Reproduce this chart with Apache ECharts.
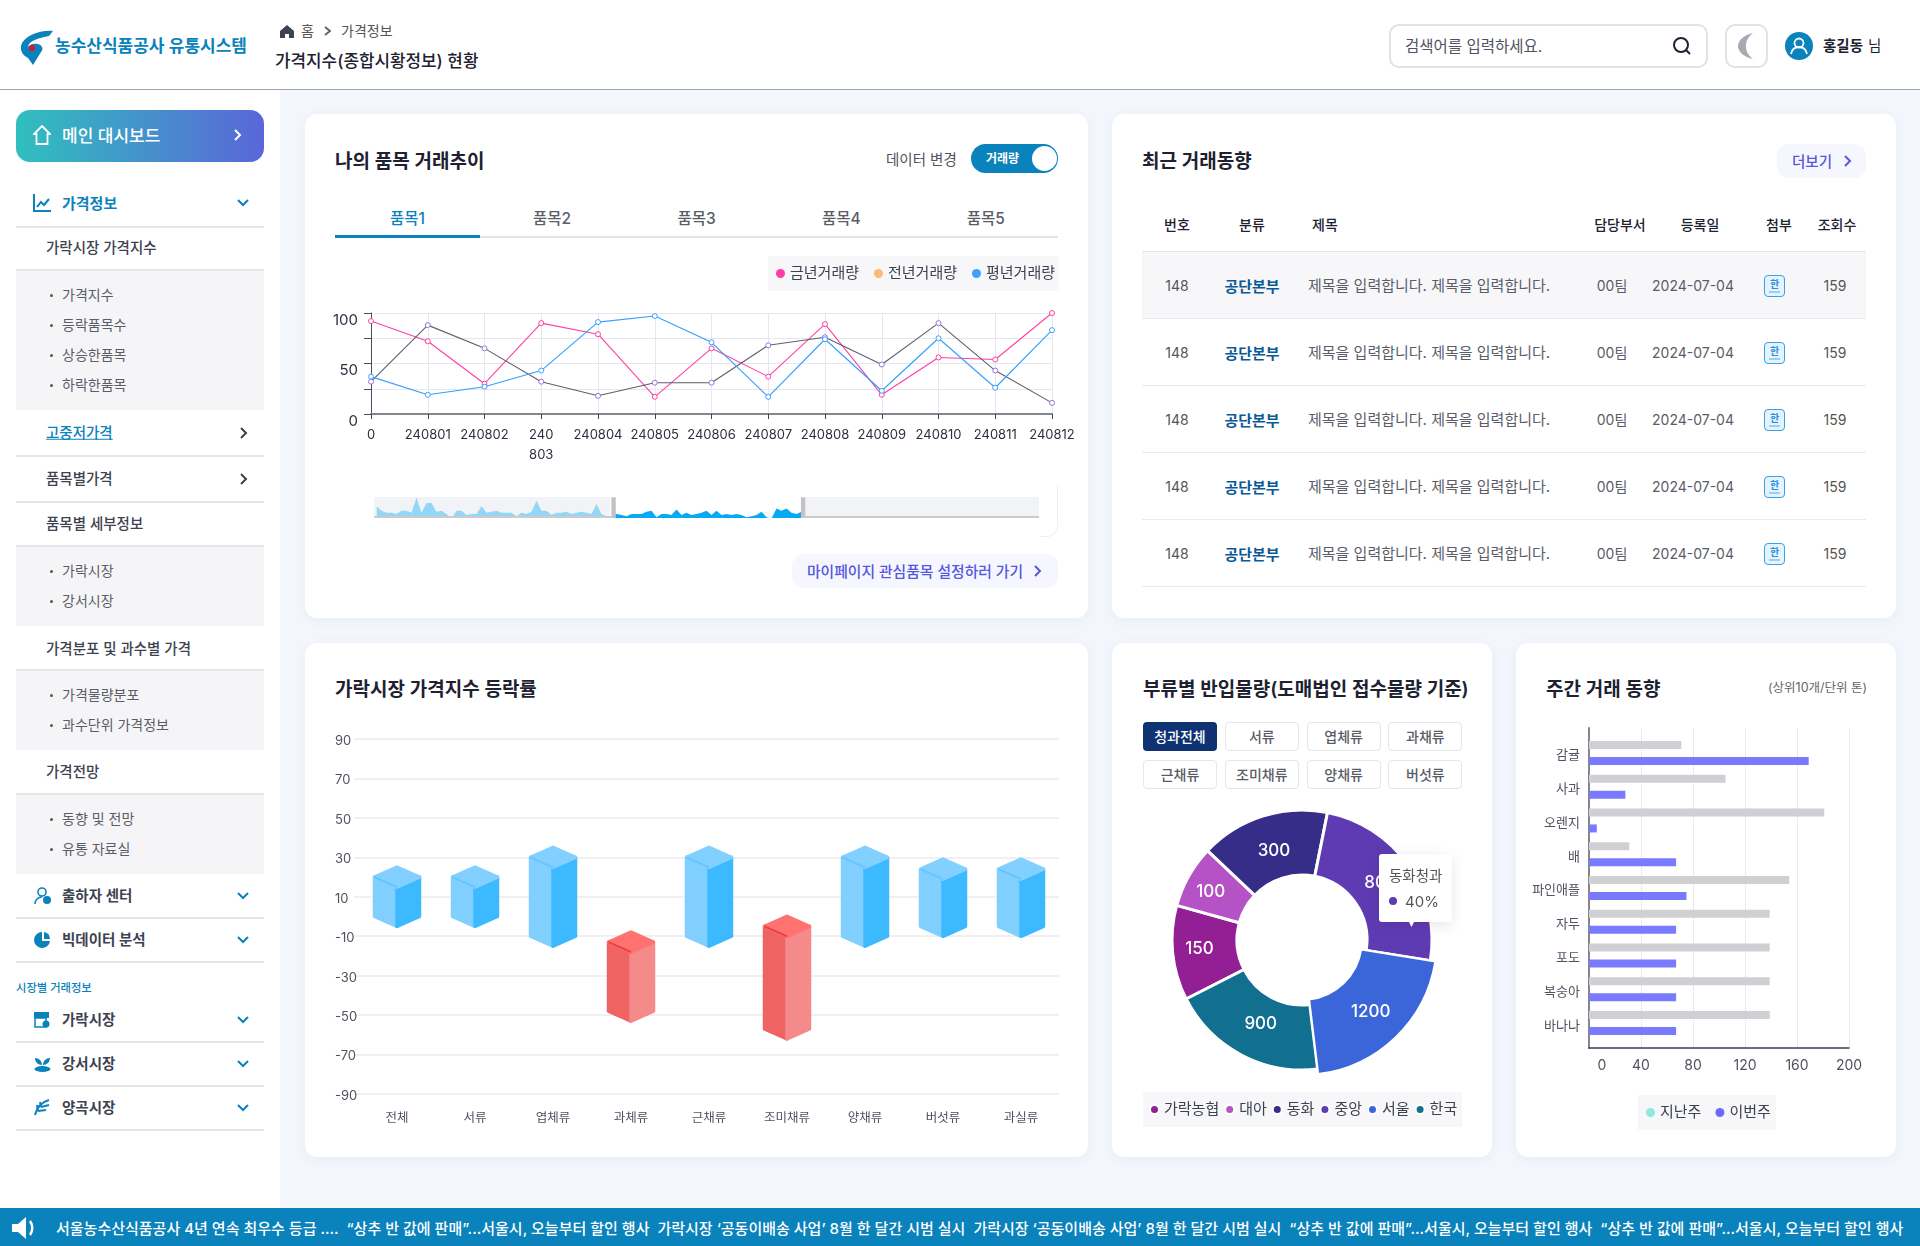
<!DOCTYPE html>
<html lang="ko">
<head>
<meta charset="utf-8">
<title>가격지수(종합시황정보) 현황</title>
<script src="https://cdn.jsdelivr.net/npm/echarts@6/dist/echarts.min.js"></script>
<style>
  html, body { margin: 0; padding: 0; }
  #page { position: relative; width: 1920px; height: 1246px; overflow: hidden; background: #f3f6fc;
    font-family: Inter, 'Noto Sans CJK KR', sans-serif; }
  #page > * { position: absolute; box-sizing: border-box; }
  #page svg { display: block; }
  .t { white-space: pre; line-height: 1; }
</style>
</head>
<body>
<div id="page"></div>
<script>
// 나의 품목 거래추이
const tradeDates = ['0', '240801', '240802', '240\n803', '240804', '240805', '240806', '240807', '240808', '240809', '240810', '240811', '240812'];
const thisYear = [92, 72, 30, 90, 79, 17, 65, 37, 89, 19, 56, 54, 100];
const lastYear = [32, 88, 65, 32, 18, 31, 31, 68, 76, 49, 90, 43, 11];
const avgYear = [37, 19, 27, 43, 91, 97, 71, 17, 74, 23, 75, 26, 83];
// 슬라이더 미니 그래프
const overviewValues = [60, 40, 30, 30, 25, 40, 40, 30, 100, 30, 75, 75, 35, 40, 25, 5, 40, 40, 20, 25, 25, 60, 30, 35, 40, 30, 30, 30, 15, 30, 25, 35, 85, 40, 40, 20, 30, 30, 35, 25, 30, 35, 30, 25, 70, 25, 15, 15,
  25, 20, 15, 25, 25, 25, 35, 40, 10, 25, 25, 20, 45, 20, 30, 20, 25, 30, 40, 20, 40, 20, 25, 20, 25, 20, 10, 15, 20, 35, 10, 5, 50, 40, 50, 30, 25, 35,
  null, null, null, null, null, null, null, null, null, null, null, null, null, null, null, null, null, null, null, null, null, null, null, null,
  null, null, null, null, null, null, null, null, null, null, null, null, null, null, null, null, null, null, null, null, null, null, null, null];

// 가락시장 가격지수 등락률
const indexCategories = ['전체', '서류', '엽체류', '과체류', '근채류', '조미채류', '양채류', '버섯류', '과실류'];
const indexLow = [0, 0, -10, -48, -10, -57, -10, -5, -5];
const indexHigh = [20, 20, 30, -13, 30, -5, 30, 24, 24];

// 부류별 반입물량
const pieNames = ['가락농협', '대아', '동화', '중앙', '서울', '한국'];
const pieShares = [42.5, 28, 58, 88, 74, 70];
const pieLabels = ['150', '100', '300', '800', '1200', '900'];
const pieColors = ['#921f93', '#b452c6', '#362d88', '#5f3bb3', '#3a66d9', '#11708f'];

// 주간 거래 동향
const weekItems = ['감귤', '사과', '오렌지', '배', '파인애플', '자두', '포도', '복숭아', '바나나'];
const lastWeek = [71, 105, 181, 31, 154, 139, 139, 139, 139];
const thisWeek = [169, 28, 6, 67, 75, 67, 67, 67, 67];

const FONT = "Inter, 'Noto Sans CJK KR', sans-serif";
const BLUE = '#0a82bc';
const page = document.getElementById('page');

function box(x, y, w, h, css) {
  const el = document.createElement('div');
  el.style.cssText = `left:${x}px;top:${y}px;width:${w}px;height:${h}px;${css || ''}`;
  page.appendChild(el);
  return el;
}
// y is the vertical centre of the text
function text(x, y, str, size, color, weight, align) {
  const el = document.createElement('div');
  el.className = 't';
  const shift = align === 'center' ? '-50%' : '0';
  el.style.cssText = `left:${x}px;top:${y}px;transform:translate(${shift},-50%);font-size:${size}px;color:${color};font-weight:${weight || 400};`;
  el.textContent = str;
  page.appendChild(el);
  return el;
}
function svg(x, y, w, h, inner) {
  const el = box(x, y, w, h);
  el.innerHTML = `<svg width="${w}" height="${h}" viewBox="0 0 ${w} ${h}">${inner}</svg>`;
}
function chevronRight(x, y, color, size) {
  const s = size || 5;
  svg(x - s, y - s - 1, s * 2, s * 2 + 2, `<polyline points="${s - 2},1 ${s + 3},${s + 1} ${s - 2},${s * 2 + 1}" fill="none" stroke="${color}" stroke-width="2"/>`);
}
function chevronDown(x, y) {
  svg(x - 7, y - 5, 14, 10, `<polyline points="2,2 7,7 12,2" fill="none" stroke="${BLUE}" stroke-width="2"/>`);
}

// 상단 헤더 + 사이드바 바탕
box(0, 0, 1920, 90, 'background:#fff;border-bottom:1px solid #a3a3ad;');
box(0, 90, 280, 1118, 'background:#fff;');
svg(20, 30, 34, 36, `<path d="M33 1C22 0 8 4 2 13c-3 6 0 12 6 15l5 7 8-13c3-3 1-7-3-8-4-1-8 0-10 3 1-7 12-9 21-11z" fill="${BLUE}"/><circle cx="12" cy="18" r="3" fill="#e3122d"/>`);
text(55, 46, '농수산식품공사 유통시스템', 17, BLUE, 600);
svg(280, 25, 14, 13, '<path d="M7 0L14 6V13H9V9H5V13H0V6z" fill="#3d4250"/>');
text(301, 31, '홈', 14, '#555');
chevronRight(327, 31, '#666', 4);
text(341, 31, '가격정보', 14, '#555');
text(275, 61, '가격지수(종합시황정보) 현황', 16.9, '#1d2130', 500);
box(1389, 24, 319, 44, 'background:#fff;border:2px solid #e1e1e6;border-radius:10px;');
text(1405, 47, '검색어를 입력하세요.', 15.5, '#4f5260');
svg(1672, 36, 20, 20, '<circle cx="9" cy="9" r="7" fill="none" stroke="#1d2130" stroke-width="2"/><line x1="14" y1="14" x2="18" y2="18" stroke="#1d2130" stroke-width="2"/>');
box(1725, 24, 43, 44, 'background:#fff;border:2px solid #e1e1e6;border-radius:10px;');
svg(1738, 33, 18, 26, '<path d="M15 0C5 2 0 8 0 13s5 11 15 13C9 21 8 17 8 13s1-8 7-13z" fill="#a9a9b4"/>');
svg(1785, 32, 28, 28, `<circle cx="14" cy="14" r="14" fill="${BLUE}"/><circle cx="14" cy="11" r="4.5" fill="none" stroke="#fff" stroke-width="1.8"/><path d="M6 22c1-5 4-7 8-7s7 2 8 7" fill="none" stroke="#fff" stroke-width="1.8"/>`);
text(1823, 46, '홍길동', 14.5, '#1d2130', 700);
text(1868, 46, '님', 14.5, '#1d2130');

// 사이드바
box(16, 110, 248, 52, 'background:linear-gradient(90deg,#2fc0bd,#5a66d9);border-radius:14px;');
svg(33, 125, 18, 20, '<path d="M9 1L17 9H14.5V19H3.5V9H1z" fill="none" stroke="#fff" stroke-width="1.8"/>');
text(62, 136, '메인 대시보드', 17, '#fff', 500);
chevronRight(237, 135, '#fff');
svg(33, 193, 18, 20, `<path d="M1 1V18H18" fill="none" stroke="${BLUE}" stroke-width="2"/><polyline points="4,14 8,9 11,12 16,6" fill="none" stroke="${BLUE}" stroke-width="2"/>`);
text(62, 203, '가격정보', 15, BLUE, 600);
chevronDown(243, 203);
const sideLines = [226, 269, 455, 501, 545, 669, 793, 917, 961, 1041, 1085, 1129];
sideLines.forEach(y => box(16, y, 248, 1.5, 'background:#e5e5ea;'));
const sidePanels = [[271, 139], [547, 79], [671, 79], [795, 79]];
sidePanels.forEach(p => box(16, p[0], 248, p[1], 'background:#f5f5f8;'));
const sideHeads = [['가락시장 가격지수', 248], ['품목별 세부정보', 524], ['가격분포 및 과수별 가격', 649], ['가격전망', 772], ['품목별가격', 479]];
sideHeads.forEach(h => text(46, h[1], h[0], 14.5, '#3d4250', 500));
const sideItems = [['가격지수', 295], ['등락품목수', 325], ['상승한품목', 355], ['하락한품목', 385], ['가락시장', 571], ['강서시장', 601], ['가격물량분포', 695], ['과수단위 가격정보', 725], ['동향 및 전망', 819], ['유통 자료실', 849]];
sideItems.forEach(s => {
  box(50, s[1] - 1, 3, 3, 'background:#555;border-radius:50%;');
  text(62, s[1], s[0], 14, '#5a5d68');
});
text(46, 433, '고중저가격', 14.5, BLUE, 500).style.textDecoration = 'underline';
chevronRight(243, 433, '#3d4250');
chevronRight(243, 479, '#3d4250');
const sideGroups = [['출하자 센터', 896], ['빅데이터 분석', 940], ['가락시장', 1020], ['강서시장', 1064], ['양곡시장', 1108]];
sideGroups.forEach(g => {
  text(62, g[1], g[0], 14.5, '#3d4250', 600);
  chevronDown(243, g[1]);
});
svg(34, 887, 18, 18, `<circle cx="8" cy="5" r="4" fill="none" stroke="${BLUE}" stroke-width="1.6"/><path d="M1 17c0-4 3-7 7-7" fill="none" stroke="${BLUE}" stroke-width="1.6"/><circle cx="13" cy="13" r="4" fill="${BLUE}"/>`);
svg(34, 931, 17, 18, `<path d="M8 1A8 8 0 1 0 16 10H8z" fill="${BLUE}"/><path d="M10 1a7 7 0 0 1 6 7h-6z" fill="${BLUE}"/>`);
text(16, 988.5, '시장별 거래정보', 11.3, BLUE, 500);
svg(34, 1012, 16, 16, `<rect x="0" y="0" width="15" height="6" fill="${BLUE}"/><rect x="1" y="6" width="11" height="9" fill="none" stroke="${BLUE}" stroke-width="1.5"/><circle cx="12" cy="12" r="3.5" fill="${BLUE}"/>`);
svg(34, 1056, 17, 16, `<path d="M8 9C4 9 1 6 1 2c4 0 7 3 7 7zM9 9c0-4 3-7 7-7 0 4-3 7-7 7z" fill="${BLUE}"/><ellipse cx="8.5" cy="13" rx="8" ry="3" fill="${BLUE}"/>`);
svg(34, 1099, 16, 17, `<path d="M1 16C3 8 8 3 15 1M4 12l-1-6M7 8l-1-5M4 12l8-1M7 8l8-2" fill="none" stroke="${BLUE}" stroke-width="2"/>`);

// 하단 뉴스 띠
box(0, 1208, 1920, 38, `background:${BLUE};`);
svg(12, 1216, 26, 24, '<path d="M0 8H6L14 1V23L6 16H0z" fill="#fff"/><path d="M18 5c3 4 3 10 0 14" fill="none" stroke="#fff" stroke-width="2.5"/>');
text(56, 1228, '서울농수산식품공사 4년 연속 최우수 등급 ....  “상추 반 값에 판매”...서울시, 오늘부터 할인 행사  가락시장 ‘공동이배송 사업’ 8월 한 달간 시범 실시  가락시장 ‘공동이배송 사업’ 8월 한 달간 시범 실시  “상추 반 값에 판매”...서울시, 오늘부터 할인 행사  “상추 반 값에 판매”...서울시, 오늘부터 할인 행사', 15, '#fff', 500);

// 카드
const cards = [[305, 114, 783, 504], [1112, 114, 784, 504], [305, 643, 783, 514], [1112, 643, 380, 514], [1516, 643, 380, 514]];
cards.forEach(c => box(c[0], c[1], c[2], c[3], 'background:#fff;border-radius:12px;box-shadow:0 2px 10px rgba(90,110,170,.08);'));
const TITLE = 19;

// 카드 1 UI
text(335, 161, '나의 품목 거래추이', TITLE, '#1d2130', 600);
text(886, 160, '데이터 변경', 14.5, '#4f5260');
box(971, 144, 87, 29, `background:${BLUE};border-radius:15px;`);
text(986, 159, '거래량', 12, '#fff', 700);
box(1032, 146, 25, 25, 'background:#fff;border-radius:50%;');
const tabNames = ['품목1', '품목2', '품목3', '품목4', '품목5'];
box(335, 236, 723, 2, 'background:#e3e3e8;');
box(335, 235, 145, 3, `background:${BLUE};`);
tabNames.forEach((n, i) => text(407.5 + i * 144.6, 219, n, 15.5, i === 0 ? BLUE : '#5a5d68', 500, 'center'));
box(374, 497, 236, 21, 'background:#f2f3f6;');
box(801, 497, 238, 21, 'background:#f2f3f6;');
box(1040, 485, 18, 52, 'border-right:1px solid #eef0f6;border-bottom:1px solid #eef0f6;border-bottom-right-radius:10px;');
box(792, 554, 266, 34, 'background:#f5f6fe;border-radius:12px;');
text(807, 572, '마이페이지 관심품목 설정하러 가기', 14.8, '#5558dc', 500);
chevronRight(1037, 571, '#5558dc');

// 카드 2 UI: 표
text(1142, 161, '최근 거래동향', TITLE, '#1d2130', 600);
box(1777, 144, 89, 34, 'background:#f5f6fe;border-radius:12px;');
text(1792, 162, '더보기', 14.5, '#5558dc', 500);
chevronRight(1847, 161, '#5558dc');
const tableHeads = [['번호', 1177], ['분류', 1252], ['제목', 1325], ['담당부서', 1620], ['등록일', 1700], ['첨부', 1779], ['조회수', 1837]];
tableHeads.forEach(h => text(h[1], 225, h[0], 14, '#1d2130', 500, 'center'));
box(1142, 251, 724, 1, 'background:#e5e5ea;');
const rowTops = [252, 319, 386, 453, 520];
rowTops.forEach((top, i) => {
  const mid = top + 34;
  if (i === 0) box(1142, top, 724, 66, 'background:#f7f7f9;');
  box(1142, top + 66, 724, 1, 'background:#e9e9ee;');
  text(1177, mid, '148', 14, '#555', 400, 'center');
  text(1252, mid, '공단본부', 15, '#0b5a96', 600, 'center');
  text(1308, mid - 1, '제목을 입력합니다. 제목을 입력합니다.', 15, '#5a5d68');
  text(1612, mid, '00팀', 14, '#5a5d68', 400, 'center');
  text(1693, mid, '2024-07-04', 14, '#5a5d68', 400, 'center');
  box(1764, mid - 11, 21, 22, 'background:#e4f3fd;border:1.5px solid #3aa0e8;border-radius:4px;');
  text(1774.5, mid - 2, '한', 10, '#2a8fdc', 600, 'center');
  box(1769, mid + 5, 11, 1.5, 'background:#9ccff3;');
  text(1835, mid, '159', 14, '#555', 400, 'center');
});

// 카드 3~5 제목
text(335, 689, '가락시장 가격지수 등락률', TITLE, '#1d2130', 600);
text(1143, 689, '부류별 반입물량(도매법인 접수물량 기준)', 19, '#1d2130', 600);
text(1546, 689, '주간 거래 동향', TITLE, '#1d2130', 600);
text(1768, 688, '(상위10개/단위 톤)', 12.5, '#666');

// 부류 버튼
const pieTabs = ['청과전체', '서류', '엽체류', '과채류', '근채류', '조미채류', '양채류', '버섯류'];
pieTabs.forEach((n, i) => {
  const x = 1143 + (i % 4) * 81.8;
  const y = i < 4 ? 722 : 760;
  box(x, y, 74, 29, i === 0 ? 'background:#0e3272;border-radius:4px;' : 'background:#fff;border:1.5px solid #e6e6ea;border-radius:4px;');
  text(x + 37, y + 14.5, n, 14, i === 0 ? '#fff' : '#5a5d68', 500, 'center');
});

function chartBox(card) {
  const el = box(card[0], card[1], card[2], card[3]);
  return echarts.init(el);
}

// 차트 1: 거래추이 라인
const trendChart = chartBox(cards[0]);
function trendSeries(name, values, lineColor, markerColor) {
  return {
    name, type: 'line', data: values, symbol: 'circle', symbolSize: 5,
    lineStyle: { color: lineColor, width: 1.1 },
    itemStyle: { color: '#fff', borderColor: markerColor, borderWidth: 1 },
    xAxisIndex: 0, yAxisIndex: 0
  };
}
trendChart.setOption({
  animation: false,
  textStyle: { fontFamily: FONT },
  legend: {
    left: 463, top: 142, icon: 'circle', itemWidth: 9, itemHeight: 9, itemGap: 15,
    padding: [10, 4, 10, 8], backgroundColor: '#f7f7f9',
    textStyle: { fontSize: 15, color: '#3d4250', fontFamily: FONT },
    data: [
      { name: '금년거래량', itemStyle: { color: '#ff3fa4', borderWidth: 0 } },
      { name: '전년거래량', itemStyle: { color: '#ffb977', borderWidth: 0 } },
      { name: '평년거래량', itemStyle: { color: '#3fa0ff', borderWidth: 0 } }
    ]
  },
  grid: [
    { left: 66, top: 199, width: 681, height: 101 },
    { left: 69, top: 383, width: 665, height: 21, show: false }
  ],
  xAxis: [
    {
      type: 'category', gridIndex: 0, data: tradeDates, boundaryGap: false,
      axisLine: { lineStyle: { color: '#85858f', width: 2 } },
      axisTick: { show: true, length: 5, lineStyle: { color: '#3d4250' } },
      axisLabel: { interval: 0, hideOverlap: false, fontSize: 13, color: '#2d3040', margin: 11, lineHeight: 20, fontFamily: FONT },
      splitLine: { show: true, lineStyle: { color: '#e6e6ec' } }
    },
    { type: 'category', gridIndex: 1, data: overviewValues.map((v, i) => i), show: false }
  ],
  yAxis: [
    {
      type: 'value', gridIndex: 0, min: 0, max: 100, interval: 25,
      axisLine: { show: true, lineStyle: { color: '#4a4d5a' } },
      axisTick: { show: true, length: 7, lineStyle: { color: '#4a4d5a' } },
      axisLabel: { formatter: v => (v % 50 === 0 ? v : ''), fontSize: 15, color: '#2d3040', margin: 13, verticalAlign: 'top', lineHeight: 14, fontFamily: FONT },
      splitLine: { show: true, lineStyle: { color: '#e6e6ec' } }
    },
    { type: 'value', gridIndex: 1, show: false }
  ],
  dataZoom: [{
    // 높이를 넉넉히 주고 아래쪽 여백은 흰 띠로 가린다
    type: 'slider', xAxisIndex: 1, left: 69, top: 376.7, width: 665, height: 33.6,
    start: 35.5, end: 64.3, showDetail: false, brushSelect: false, moveHandleSize: 0,
    backgroundColor: 'transparent', borderColor: 'transparent', fillerColor: 'transparent',
    handleIcon: 'path://M0,0 L5,0 L5,24 L0,24 Z', handleSize: '62.5%',
    handleStyle: { color: '#c2c2c6', borderWidth: 0 },
    dataBackground: { lineStyle: { opacity: 0 }, areaStyle: { color: '#93d6f5', opacity: 1 } },
    selectedDataBackground: { lineStyle: { opacity: 0 }, areaStyle: { color: '#05a9f4', opacity: 1 } }
  }],
  series: [
    trendSeries('금년거래량', thisYear, '#ff3fa4', '#ff3fa4'),
    trendSeries('전년거래량', lastYear, '#5f5f6a', '#9a70e0'),
    trendSeries('평년거래량', avgYear, '#2fa0ff', '#3fa0ff'),
    { type: 'line', name: 'overview', data: overviewValues, xAxisIndex: 1, yAxisIndex: 1, showSymbol: false, symbol: 'none', lineStyle: { opacity: 0 } }
  ]
});
box(374, 518, 665, 8, 'background:#fff;');
box(374, 516, 236, 2, 'background:#cbcbce;');
box(801, 516, 238, 2, 'background:#cbcbce;');

// 차트 2: 등락률 입체 막대
const indexChart = chartBox(cards[2]);
const BAR_HALF = 22.5;
const BAR_SKEW = 10;
function renderIndexBar(params, api) {
  const high = api.value(2);
  const x = api.coord([api.value(0), 0])[0];
  const top = api.coord([0, high])[1];
  const bottom = api.coord([0, api.value(1)])[1];
  const red = high < 0;
  const colors = red
    ? { left: '#ef6463', right: '#f48b8a', cap: '#ff7270', edge: '#e8403f' }
    : { left: '#80cfff', right: '#3cb9ff', cap: '#82d0ff', edge: '#66c4ff' };
  const face = (points, color) => ({
    type: 'polygon', shape: { points },
    style: { fill: color, stroke: color, lineWidth: 3.5, lineJoin: 'round' }
  });
  return {
    type: 'group',
    children: [
      face([[x - BAR_HALF, top], [x, top + BAR_SKEW], [x, bottom + BAR_SKEW], [x - BAR_HALF, bottom]], colors.left),
      face([[x + BAR_HALF, top], [x, top + BAR_SKEW], [x, bottom + BAR_SKEW], [x + BAR_HALF, bottom]], colors.right),
      face([[x - BAR_HALF, top], [x, top - BAR_SKEW], [x + BAR_HALF, top], [x, top + BAR_SKEW]], colors.cap),
      { type: 'polyline', shape: { points: [[x - BAR_HALF, top], [x, top + BAR_SKEW]] }, style: { stroke: colors.edge, lineWidth: 2, fill: 'none' } }
    ]
  };
}
indexChart.setOption({
  animation: false,
  textStyle: { fontFamily: FONT },
  grid: [
    { left: 49, top: 96, width: 705, height: 355 },
    { left: 53, top: 96, width: 702, height: 355 }
  ],
  xAxis: [
    { type: 'value', gridIndex: 0, show: false },
    {
      type: 'category', gridIndex: 1, data: indexCategories,
      axisLine: { show: false }, axisTick: { show: false },
      axisLabel: { interval: 0, fontSize: 12.5, color: '#4f5260', margin: 18, fontFamily: FONT }
    }
  ],
  yAxis: [
    {
      type: 'value', gridIndex: 0, min: -90, max: 90, interval: 20,
      axisLine: { show: false }, axisTick: { show: false },
      axisLabel: {
        align: 'left', margin: 19, formatter: v => `{a|${v}}`,
        rich: { a: { fontSize: 13, color: '#4f5260', padding: [4, 0, 0, 0], fontFamily: FONT } }
      },
      splitLine: { lineStyle: { color: '#ebebf0', width: 1.5 } }
    },
    { type: 'value', gridIndex: 1, min: -90, max: 90, show: false }
  ],
  series: [{
    type: 'custom', renderItem: renderIndexBar, xAxisIndex: 1, yAxisIndex: 1,
    data: indexCategories.map((c, i) => [i, indexLow[i], indexHigh[i]]),
    encode: { x: 0, y: [1, 2] }
  }]
});

// 차트 3: 반입물량 도넛
const pieChart = chartBox(cards[3]);
const pieData = pieNames.map((name, i) => ({ name, value: pieShares[i], itemStyle: { color: pieColors[i] } }));
const labelNudge = [[-2.5, -1], [-3.7, 1], [2.4, 7], [-4, 0], [-1, -1], [6, -5]];
pieChart.setOption({
  animation: false,
  textStyle: { fontFamily: FONT },
  legend: {
    left: 31, top: 449, icon: 'circle', itemWidth: 9, itemHeight: 9, itemGap: 5,
    padding: [10, 5, 10, 6], backgroundColor: '#f7f7f9',
    textStyle: { fontSize: 15, color: '#3d4250', fontFamily: FONT },
    data: pieNames
  },
  series: [
    {
      type: 'pie', radius: [65, 130], center: [190, 297], startAngle: 207, clockwise: true,
      itemStyle: { borderColor: '#fff', borderWidth: 3 },
      label: {
        position: 'inside', color: '#fff', fontSize: 17, fontWeight: 500, fontFamily: FONT,
        formatter: p => pieLabels[p.dataIndex]
      },
      labelLayout: p => ({ dx: labelNudge[p.dataIndex][0], dy: labelNudge[p.dataIndex][1] }),
      data: pieData, z: 2
    },
    // 서울 조각만 조금 크게
    {
      type: 'pie', radius: [60, 135], center: [190, 297], startAngle: 207, silent: true,
      itemStyle: { borderColor: '#fff', borderWidth: 2 },
      label: { show: false }, labelLine: { show: false },
      labelLayout: p => ({ dx: labelNudge[p.dataIndex][0], dy: labelNudge[p.dataIndex][1] }),
      data: pieNames.map((name, i) => ({
        name, value: pieShares[i],
        itemStyle: name === '서울' ? { color: pieColors[i] } : { color: 'transparent', borderColor: 'transparent' },
        label: name === '서울' ? { show: true, position: 'inside', color: '#fff', fontSize: 17, fontWeight: 500, fontFamily: FONT, formatter: pieLabels[i] } : { show: false }
      })),
      z: 3
    }
  ]
});

// 도넛 툴팁
box(1379, 854, 73, 68, 'background:#fff;border-radius:3px;box-shadow:0 3px 14px rgba(0,0,0,.10);');
svg(1408.5, 922, 5, 5, '<path d="M0 0H5L2.5 5z" fill="#fff"/>');
text(1389, 876, '동화청과', 14.5, '#555');
box(1389, 897, 8, 8, 'background:#5f3bb3;border-radius:50%;');
text(1405, 901, '40%', 15, '#555');

// 차트 4: 주간 거래 동향
const weekChart = chartBox(cards[4]);
weekChart.setOption({
  animation: false,
  textStyle: { fontFamily: FONT },
  legend: {
    left: 122, top: 452, icon: 'circle', itemWidth: 9, itemHeight: 9, itemGap: 14,
    padding: [10, 5, 10, 8], backgroundColor: '#f7f7f9',
    textStyle: { fontSize: 15, color: '#3d4250', fontFamily: FONT },
    data: [
      { name: '지난주', itemStyle: { color: '#8fead9' } },
      { name: '이번주', itemStyle: { color: '#6a6aff' } }
    ]
  },
  grid: [
    { left: 73, top: 85, width: 260, height: 320 },
    { left: 73, top: 93, width: 260, height: 304 }
  ],
  xAxis: [
    {
      type: 'value', gridIndex: 0, min: 0, max: 200, interval: 40,
      axisLine: { show: true, lineStyle: { color: '#3b3b4f', width: 1.5 } }, axisTick: { show: false },
      axisLabel: {
        fontSize: 14, color: '#4f5260', margin: 11, fontFamily: FONT,
        formatter: v => (v === 0 ? '{zero|0}' : v),
        rich: { zero: { padding: [0, 0, 0, 26], fontSize: 14, color: '#4f5260', fontFamily: FONT } }
      },
      splitLine: { show: true, lineStyle: { type: 'dotted', color: '#d5d5da' } }
    },
    { type: 'value', gridIndex: 1, min: 0, max: 200, show: false }
  ],
  yAxis: [
    {
      type: 'value', gridIndex: 0, axisLine: { show: true, lineStyle: { color: '#85858f', width: 2 } },
      axisTick: { show: false }, axisLabel: { show: false }, splitLine: { show: false }
    },
    {
      type: 'category', gridIndex: 1, data: weekItems, inverse: true,
      axisLine: { show: false }, axisTick: { show: false },
      axisLabel: {
        interval: 0, margin: 9, formatter: v => `{a|${v}}`,
        rich: { a: { fontSize: 13, color: '#4f5260', padding: [5, 0, 0, 0], fontFamily: FONT } }
      }
    }
  ],
  series: [
    { name: '지난주', type: 'bar', xAxisIndex: 1, yAxisIndex: 1, data: lastWeek, barWidth: 8, barGap: '100%', itemStyle: { color: '#cfcfd4' } },
    { name: '이번주', type: 'bar', xAxisIndex: 1, yAxisIndex: 1, data: thisWeek, barWidth: 8, barGap: '100%', itemStyle: { color: '#7a7aff' } }
  ]
});
</script>
</body>
</html>
